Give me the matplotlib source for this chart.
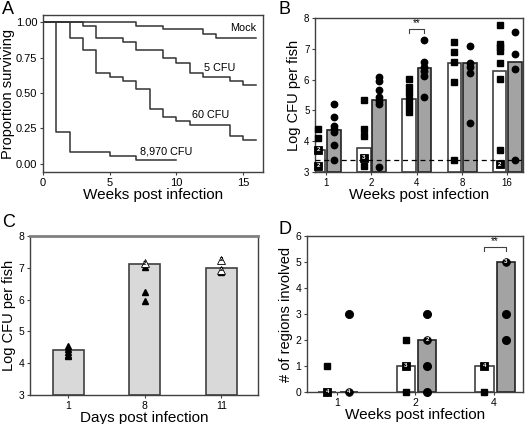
import matplotlib
matplotlib.use("Agg")
import matplotlib.pyplot as plt
import numpy as np

plt.rcParams["font.family"] = ["Liberation Sans", "DejaVu Sans"]

# --- A: survival curves (weeks, proportion surviving)
mock_weeks = [0, 7, 9, 12, 13, 16]
mock_surv = [1.0, 0.976, 0.948, 0.918, 0.889, 0.889]
cfu5_weeks = [0, 3, 4, 6, 7, 9, 10, 11, 12, 14, 15, 16]
cfu5_surv = [1.0, 0.976, 0.889, 0.859, 0.80, 0.748, 0.713, 0.638, 0.612, 0.584, 0.553, 0.553]
cfu60_weeks = [0, 2, 3, 4, 5, 6, 7, 8, 9, 10, 11, 14, 15, 16]
cfu60_surv = [1.0, 0.889, 0.80, 0.638, 0.612, 0.584, 0.529, 0.388, 0.332, 0.30, 0.275, 0.195, 0.167, 0.167]
cfu8970_weeks = [0, 1, 2, 5, 7, 10]
cfu8970_surv = [1.0, 0.224, 0.082, 0.054, 0.026, 0.026]

# --- B: log CFU per fish by week
b_weeks = ["1", "2", "4", "8", "16"]
b_white_bar = [3.72, 3.79, 5.36, 6.54, 6.27]
b_gray_bar = [4.37, 5.35, 6.38, 6.54, 6.57]
b_white_pts = [[4.40, 4.11],
               [5.35, 4.40, 4.16, 3.18],
               [6.03, 5.75, 5.55, 5.35, 5.15, 4.95],
               [7.22, 6.89, 6.57, 5.92, 3.40],
               [7.76, 7.16, 7.05, 6.93, 6.55, 6.03, 3.72]]
b_white_multi = [[(3.72, 2), (3.20, 2)], [(3.46, 3)], [], [], [(3.25, 2)]]
b_gray_pts = [[5.20, 4.80, 4.50, 4.40, 4.30, 3.88, 3.40],
              [6.10, 5.95, 5.65, 5.42, 5.30, 5.22, 3.17],
              [7.30, 6.57, 6.42, 6.27, 6.12, 5.45],
              [7.08, 6.55, 6.40, 6.23, 4.58],
              [7.56, 6.82, 6.35, 3.40]]
b_detection = 3.4

# --- C: log CFU per fish by day
c_days = ["1", "8", "11"]
c_bar = [4.40, 7.13, 6.98]
c_pts = [[4.55, 4.45, 4.35, 4.27, 4.22], [7.04, 6.25, 5.95], [6.87]]
c_multi = [[], [(7.15, 2)], [(7.25, 2), (6.94, 2)]]

# --- D: regions involved
d_weeks = ["1", "2", "4"]
d_white_bar = [0, 1, 1]
d_gray_bar = [0, 2, 5]
d_white_pts = [[1], [2, 0], [0]]
d_white_multi = [[(0, 4)], [(1, 3)], [(1, 4)]]
d_gray_pts = [[3], [3, 1, 0], [3, 2]]
d_gray_multi = [[(0, 4)], [(2, 2)], [(5, 3)]]

SPINE = "#404040"
GRAY = "#a3a3a3"
LINE = "#333333"


def style(ax, tick_size=7):
    for s in ax.spines.values():
        s.set_color(SPINE)
        s.set_linewidth(1.0)
    ax.tick_params(length=2.5, width=0.8, labelsize=tick_size, pad=1.5, color=SPINE)


def numbered(ax, x, y, n, marker, ms, face="black", txt="white"):
    ax.plot(x, y, marker=marker, ms=ms, mfc=face, mec="black", mew=0.6, ls="none",
            clip_on=False, zorder=5)
    ax.text(x, y, str(n), color=txt, fontsize=4.5, ha="center", va="center",
            fontweight="bold", zorder=6, clip_on=False)


def bracket(ax, x0, x1, y_top, y_bot, star_y):
    ax.plot([x0, x0, x1, x1], [y_bot, y_top, y_top, y_bot], color=SPINE, lw=0.8)
    ax.text((x0 + x1) / 2, star_y, "**", ha="center", va="center", fontsize=7)


fig = plt.figure(figsize=(5.29, 4.24), dpi=100)

# ---------------- A
ax = fig.add_axes([0.0813, 0.5943, 0.4159, 0.3703])
for w, s in [(mock_weeks, mock_surv), (cfu5_weeks, cfu5_surv),
             (cfu60_weeks, cfu60_surv), (cfu8970_weeks, cfu8970_surv)]:
    ax.step(w, s, where="post", color=LINE, lw=1.1)
ax.set_xlim(0, 16.5)
ax.set_ylim(-0.057, 1.05)
ax.set_xticks([0, 5, 10, 15])
ax.set_yticks([0, 0.25, 0.5, 0.75, 1.0])
ax.set_yticklabels(["0.00", "0.25", "0.50", "0.75", "1.00"])
ax.text(16.0, 0.92, "Mock", ha="right", va="bottom", fontsize=7.8)
ax.text(12.1, 0.64, "5 CFU", ha="left", va="bottom", fontsize=7.8)
ax.text(11.2, 0.31, "60 CFU", ha="left", va="bottom", fontsize=7.8)
ax.text(7.25, 0.05, "8,970 CFU", ha="left", va="bottom", fontsize=7.8)
style(ax, 8)
ax.set_xlabel("Weeks post infection", fontsize=11, labelpad=0)
ax.set_ylabel("Proportion surviving", fontsize=10.5, labelpad=1)

# ---------------- B
ax = fig.add_axes([0.5955, 0.5943, 0.3932, 0.3632])
x = np.arange(len(b_weeks))
wo, go, bw = -0.165, 0.175, 0.3
ax.bar(x + wo, np.array(b_white_bar) - 3, bw, bottom=3, color="white", edgecolor=SPINE, lw=1.2, zorder=2)
ax.bar(x + go, np.array(b_gray_bar) - 3, bw, bottom=3, color=GRAY, edgecolor="#222222", lw=1.2, zorder=2)
for i in range(len(b_weeks)):
    ax.plot([x[i] + wo] * len(b_white_pts[i]), b_white_pts[i], "s", color="black", ms=4.2, zorder=4, clip_on=False)
    ax.plot([x[i] + go] * len(b_gray_pts[i]), b_gray_pts[i], "o", color="black", ms=4.6, zorder=4, clip_on=False)
    for v, n in b_white_multi[i]:
        numbered(ax, x[i] + wo, v, n, "s", 5.2)
ax.axhline(b_detection, color="black", ls=(0, (4, 3)), lw=0.9, zorder=3)
bracket(ax, x[2] + wo, x[2] + go, 7.65, 7.5, 7.85)
ax.set_xlim(-0.24, 4.35)
ax.set_ylim(3, 8)
ax.set_xticks(x)
ax.set_xticklabels(b_weeks)
style(ax, 7)
ax.set_xlabel("Weeks post infection", fontsize=11, labelpad=0)
ax.set_ylabel("Log CFU per fish", fontsize=10.5, labelpad=2)

# ---------------- C
ax = fig.add_axes([0.0567, 0.0684, 0.4310, 0.375])
x = np.arange(len(c_days))
ax.bar(x, np.array(c_bar) - 3, 0.4, bottom=3, color="#d9d9d9", edgecolor=SPINE, lw=1.2, zorder=2)
for i in range(len(c_days)):
    ax.plot([x[i]] * len(c_pts[i]), c_pts[i], "^", color="black", ms=5, zorder=4)
    for v, n in c_multi[i]:
        numbered(ax, x[i], v, n, "^", 5.5, face="white", txt="black")
ax.set_xlim(-0.5, 2.48)
ax.set_ylim(3, 8)
ax.set_xticks(x)
ax.set_xticklabels(c_days)
style(ax, 7.5)
ax.spines["top"].set_color("#808080")
ax.spines["top"].set_linewidth(2)
ax.set_xlabel("Days post infection", fontsize=11, labelpad=0)
ax.set_ylabel("Log CFU per fish", fontsize=10.5, labelpad=2)

# ---------------- D
ax = fig.add_axes([0.5803, 0.0755, 0.4083, 0.3679])
x = np.arange(len(d_weeks))
wo, go, bw = -0.12, 0.15, 0.23
ax.bar(x + wo, d_white_bar, bw, color="white", edgecolor=SPINE, lw=1.2, zorder=2)
ax.bar(x + go, d_gray_bar, bw, color=GRAY, edgecolor="#222222", lw=1.2, zorder=2)
for i in range(len(d_weeks)):
    ax.plot([x[i] + wo] * len(d_white_pts[i]), d_white_pts[i], "s", color="black", ms=5, zorder=4, clip_on=False)
    ax.plot([x[i] + go] * len(d_gray_pts[i]), d_gray_pts[i], "o", color="black", ms=5.5, zorder=4, clip_on=False)
    for v, n in d_white_multi[i]:
        numbered(ax, x[i] + wo, v, n, "s", 5.2)
    for v, n in d_gray_multi[i]:
        numbered(ax, x[i] + go, v, n, "o", 5.5)
bracket(ax, x[2] + wo, x[2] + go, 5.58, 5.41, 5.8)
ax.set_xlim(-0.38, 2.37)
ax.set_ylim(0, 6)
ax.set_xticks(x)
ax.set_xticklabels(d_weeks)
style(ax, 7.5)
ax.set_xlabel("Weeks post infection", fontsize=11, labelpad=0)
ax.set_ylabel("# of regions involved", fontsize=10.5, labelpad=2)

# panel letters
for lbl, (px, py) in {"A": (2, 1), "B": (278, 1), "C": (2, 214), "D": (278, 221)}.items():
    fig.text(px / 529, 1 - py / 424, lbl, fontsize=13, ha="left", va="top")

fig.savefig("out.png", dpi=100)
